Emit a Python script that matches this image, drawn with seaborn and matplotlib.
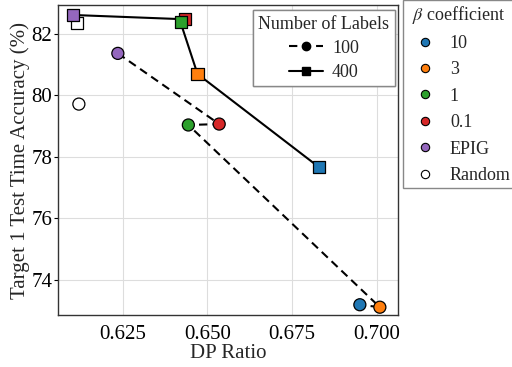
import matplotlib
matplotlib.use("Agg")
import matplotlib.pyplot as plt
from matplotlib.lines import Line2D
import seaborn as sns
import pandas as pd

# ---- data ----
methods = ["EPIG", "0.1", "1", "3", "10", "Random"]
dp_100 = [0.6236, 0.6535, 0.6444, 0.7009, 0.6950, 0.6121]
acc_100 = [81.37, 79.07, 79.04, 73.11, 73.19, 79.72]
dp_400 = [0.6103, 0.6434, 0.6421, 0.6471, 0.6829, 0.6115]
acc_400 = [82.62, 82.48, 82.38, 80.70, 77.67, 82.36]
label_counts = ["100", "400"]
legend_order = ["10", "3", "1", "0.1", "EPIG", "Random"]

colors = {"10": "#1f77b4", "3": "#ff7f0e", "1": "#2ca02c", "0.1": "#d62728",
          "EPIG": "#9467bd", "Random": "white"}

rows = []
for lab, dps, accs in [("100", dp_100, acc_100), ("400", dp_400, acc_400)]:
    for m, d, a in zip(methods, dps, accs):
        rows.append({"method": m, "labels": lab, "dp": d, "acc": a})
df = pd.DataFrame(rows)

sns.set_theme(style="whitegrid")
plt.rcParams["font.family"] = ["Liberation Serif", "DejaVu Serif"]
plt.rcParams["mathtext.fontset"] = "stix"

fig = plt.figure(figsize=(5.12, 3.67), dpi=100)
ax = fig.add_axes([0.113, 0.142, 0.664, 0.844])

line_df = df[df["method"] != "Random"]
sns.lineplot(data=line_df, x="dp", y="acc", style="labels", sort=False,
             estimator=None, units="labels", color="black", linewidth=1.5,
             dashes={"100": (4, 2.5), "400": ""}, legend=False, ax=ax, zorder=2)

# draw points: order so Random is underneath, green over red
draw_order = ["Random", "10", "3", "0.1", "1", "EPIG"]
for m in draw_order:
    sub = df[df["method"] == m]
    sns.scatterplot(data=sub, x="dp", y="acc", style="labels",
                    markers={"100": "o", "400": "s"}, style_order=label_counts,
                    color=colors[m], edgecolor="black", linewidth=0.9,
                    s=75, legend=False, ax=ax, zorder=3)

ax.set_xlim(0.6059, 0.7062)
ax.set_ylim(72.86, 82.94)
ax.set_xticks([0.625, 0.650, 0.675, 0.700])
ax.set_yticks([74, 76, 78, 80, 82])
ax.set_xlabel("DP Ratio", fontsize=15, labelpad=0)
ax.set_ylabel("Target 1 Test Time Accuracy (%)", fontsize=15, labelpad=1)
ax.tick_params(axis="both", labelsize=15, colors="black")
ax.tick_params(axis="y", left=True, length=3, width=0.8, pad=1)
ax.tick_params(axis="x", bottom=False, pad=1)
ax.grid(color="#dddddd", linewidth=0.8)
for sp in ax.spines.values():
    sp.set_color("#333333")
    sp.set_linewidth(1.0)

h1 = [Line2D([0], [0], color="black", linestyle=(0, (4, 2.5)), marker="o",
             markersize=6, lw=1.5),
      Line2D([0], [0], color="black", linestyle="-", marker="s",
             markersize=6, lw=1.5)]
leg1 = ax.legend(h1, label_counts, title="Number of Labels", loc="upper right",
                 fontsize=13, title_fontsize=13, frameon=True, fancybox=False,
                 edgecolor="#888888", framealpha=1, handlelength=1.9,
                 bbox_to_anchor=(0.991, 0.984), borderaxespad=0,
                 borderpad=0.3, labelspacing=0.4, handletextpad=0.5)
leg1._legend_box.align = "center"
ax.add_artist(leg1)

h2 = [Line2D([0], [0], linestyle="", marker="o", markersize=6,
             markerfacecolor=colors[m], markeredgecolor="black",
             markeredgewidth=0.8) for m in legend_order]
fig.legend(h2, legend_order, title=r"$\beta$ coefficient", loc="upper left",
           bbox_to_anchor=(0.787, 1.0), borderaxespad=0, fontsize=13,
           title_fontsize=13, frameon=True, fancybox=False,
           edgecolor="#888888", framealpha=1, handlelength=2.0,
           borderpad=0.2, labelspacing=0.52, handletextpad=0.4)

fig.savefig("out.png", dpi=100)
